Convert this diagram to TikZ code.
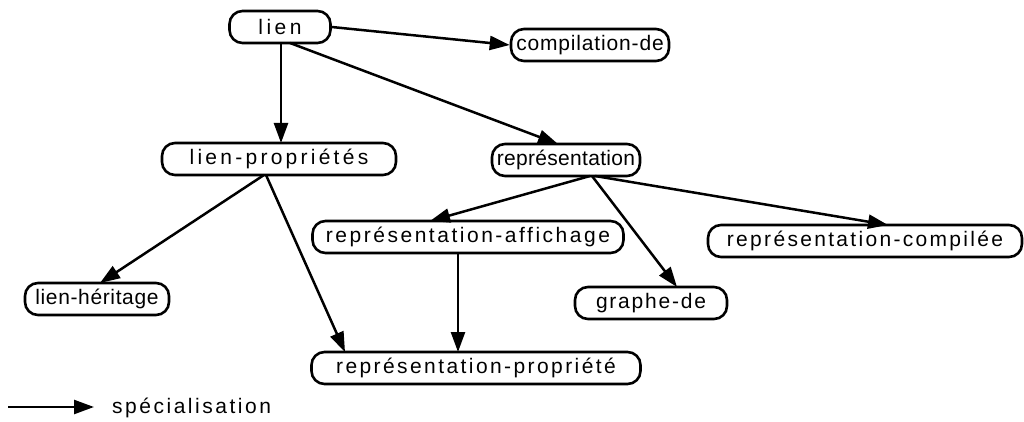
\documentclass[tikz,border=0pt]{standalone}
\usepackage{fontspec}
\setmainfont{Liberation Sans}
\usetikzlibrary{arrows.meta}
\begin{document}
\begin{tikzpicture}[x=1pt,y=-1pt,
  box/.style={draw,line width=2.6pt,rounded corners=13pt,inner sep=0pt,
    minimum height=32pt},
  ls/.style={font=\fontsize{21}{25}\selectfont\addfontfeatures{LetterSpace=#1}},
  arr/.style={line width=2.5pt,-{Triangle[length=20pt,width=14pt]}}]
\useasboundingbox (0,0) rectangle (1024,422);
\node[box,ls=17,minimum width=101pt] (lien) at (280,27) {lien};
\node[box,ls=4,minimum width=158pt] (comp) at (590,45) {compilation-de};
\node[box,ls=15.5,minimum width=234pt] (lp) at (279,159) {lien-propriétés};
\node[box,ls=1.5,minimum width=148pt] (rep) at (566,160) {représentation};
\node[box,ls=12,minimum width=311pt] (ra) at (468,237) {représentation-affichage};
\node[box,ls=11,minimum width=314pt] (rc) at (865,241) {représentation-compilée};
\node[box,ls=3,minimum width=144pt] (lh) at (97,299) {lien-héritage};
\node[box,ls=8.5,minimum width=152pt] (gd) at (651,303) {graphe-de};
\node[box,ls=11.5,minimum width=329pt] (rp) at (476,368) {représentation-propriété};
\coordinate (l1) at (8,407);
\coordinate (l2) at (94,407);
\node[anchor=west,inner sep=0pt,ls=12] (leg) at (112,408) {spécialisation};
\draw[arr] (lien.east) -- (comp.west);
\draw[arr] (281,43) -- (281,143);
\draw[arr] (290,43) -- (558,144);
\draw[arr] (264,175) -- (100,283);
\draw[arr] (266,175) -- (345,352);
\draw[arr] (590,176) -- (430,221);
\draw[arr] (592,176) -- (677,287);
\draw[arr] (595,176) -- (888,225);
\draw[arr] (458,253) -- (458,352);
\draw[arr] (l1) -- (l2);
\end{tikzpicture}
\end{document}
